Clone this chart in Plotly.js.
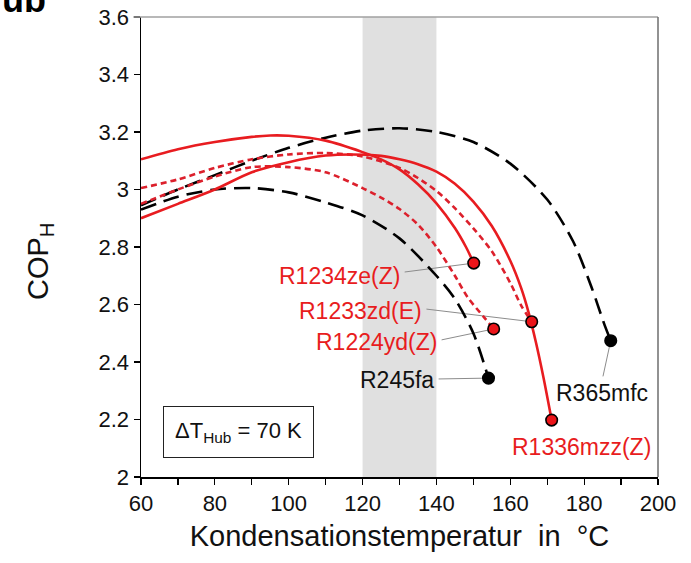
<!DOCTYPE html>
<html>
<head>
<meta charset="utf-8">
<script src="https://cdn.plot.ly/plotly-3.0.1.min.js"></script>
<style>html,body{margin:0;padding:0;background:#fff;}#chart{width:691px;height:563px;}</style>
</head>
<body>
<div id="chart"></div>
<script>
// Data
const r245fa_x = [60, 70, 80, 90, 100, 110, 120, 130, 140, 145, 150, 154.1];
const r245fa_y = [2.93, 2.975, 3.0, 3.005, 2.99, 2.955, 2.91, 2.83, 2.70, 2.62, 2.50, 2.344];

const r365mfc_x = [60, 70, 80, 90, 100, 110, 120, 130, 140, 150, 160, 170, 177, 182, 185.5, 187.2];
const r365mfc_y = [2.945, 3.0, 3.05, 3.10, 3.145, 3.18, 3.205, 3.213, 3.20, 3.165, 3.09, 2.965, 2.82, 2.66, 2.53, 2.474];

const r1234ze_x = [60, 70, 80, 90, 95, 100, 110, 120, 125, 130, 135, 140, 145, 148, 150.1];
const r1234ze_y = [3.105, 3.14, 3.165, 3.183, 3.188, 3.187, 3.17, 3.13, 3.105, 3.07, 3.018, 2.952, 2.866, 2.80, 2.744];

const r1233zd_x = [60, 70, 80, 90, 100, 110, 120, 130, 135, 140, 145, 150, 155, 160, 163, 165.8];
const r1233zd_y = [3.005, 3.035, 3.075, 3.105, 3.122, 3.127, 3.115, 3.075, 3.04, 2.995, 2.935, 2.865, 2.785, 2.675, 2.595, 2.54];

const r1224yd_x = [60, 70, 80, 90, 100, 110, 120, 125, 130, 135, 140, 145, 148.4, 152.8, 155.5];
const r1224yd_y = [2.95, 3.0, 3.045, 3.078, 3.078, 3.06, 3.005, 2.972, 2.932, 2.878, 2.80, 2.70, 2.626, 2.557, 2.515];

const r1336mzz_x = [60, 70, 80, 90, 100, 110, 117, 125, 130, 135, 140, 145, 150, 155, 160, 163, 165, 167, 169, 171.2];
const r1336mzz_y = [2.90, 2.95, 3.00, 3.06, 3.095, 3.118, 3.122, 3.117, 3.105, 3.088, 3.062, 3.02, 2.958, 2.873, 2.752, 2.655, 2.57, 2.465, 2.345, 2.198];

const endNames = ["R245fa", "R365mfc", "R1234ze(Z)", "R1233zd(E)", "R1224yd(Z)", "R1336mzz(Z)"];
const bandRange = [120, 140];
const xTicks = [60, 80, 100, 120, 140, 160, 180, 200];
const yTicks = [2, 2.2, 2.4, 2.6, 2.8, 3, 3.2, 3.4, 3.6];
const yTickText = ["2", "2.2", "2.4", "2.6", "2.8", "3", "3.2", "3.4", "3.6"];

const RED = "rgb(232,28,32)";
const REDD = "rgb(220,32,44)";
const BLK = "rgb(0,0,0)";
const FONT = "Liberation Sans, Arial, sans-serif";

function curve(x, y, color, dash) {
  return {x: x, y: y, type: "scatter", mode: "lines", showlegend: false, hoverinfo: "skip",
          line: {color: color, width: 2.6, dash: dash, shape: "spline", smoothing: 0.8}};
}
function endPt(x, y, fill) {
  return {x: [x[x.length - 1]], y: [y[y.length - 1]], type: "scatter", mode: "markers", showlegend: false,
          hoverinfo: "skip", marker: {size: 11.5, color: fill, line: {color: "#000", width: 1.6}}};
}

const traces = [
  curve(r245fa_x, r245fa_y, BLK, "16px,8px"),
  curve(r365mfc_x, r365mfc_y, BLK, "16px,8px"),
  curve(r1234ze_x, r1234ze_y, RED, "solid"),
  curve(r1233zd_x, r1233zd_y, REDD, "6px,4px"),
  curve(r1224yd_x, r1224yd_y, REDD, "6px,4px"),
  curve(r1336mzz_x, r1336mzz_y, RED, "solid"),
  endPt(r245fa_x, r245fa_y, "#000"),
  endPt(r365mfc_x, r365mfc_y, "#000"),
  endPt(r1234ze_x, r1234ze_y, "rgb(235,20,25)"),
  endPt(r1233zd_x, r1233zd_y, "rgb(235,20,25)"),
  endPt(r1224yd_x, r1224yd_y, "rgb(235,20,25)"),
  endPt(r1336mzz_x, r1336mzz_y, "rgb(235,20,25)")
];

function last(a) { return a[a.length - 1]; }
function leader(x0, y0, x1, y1) {
  return {type: "line", xref: "x", yref: "y", x0: x0, y0: y0, x1: x1, y1: y1,
          line: {color: "rgb(140,140,140)", width: 1}, layer: "below"};
}

const shapes = [
  {type: "rect", xref: "x", yref: "paper", x0: bandRange[0], x1: bandRange[1], y0: 0, y1: 1,
   fillcolor: "rgb(224,224,224)", line: {width: 0}, layer: "below"},
  leader(131.4, 2.713, last(r1234ze_x), last(r1234ze_y)),
  leader(137.3, 2.584, last(r1233zd_x), last(r1233zd_y)),
  leader(141.4, 2.477, last(r1224yd_x), last(r1224yd_y)),
  leader(140.6, 2.341, last(r245fa_x), last(r245fa_y)),
  leader(185.1, 2.350, last(r365mfc_x), last(r365mfc_y)),
  // frame top & right (gray)
  {type: "line", xref: "paper", yref: "paper", x0: -0.015, x1: 1, y0: 1, y1: 1, line: {color: "rgb(160,160,160)", width: 1.5}},
  {type: "line", xref: "paper", yref: "paper", x0: 1, x1: 1, y0: 0, y1: 1, line: {color: "rgb(110,110,110)", width: 1.5}}
];

function lab(text, x, y, color, xanchor) {
  return {text: text, x: x, y: y, xref: "x", yref: "y", showarrow: false, xanchor: xanchor, yanchor: "middle",
          font: {family: FONT, size: 23, color: color}};
}

const annotations = [
  lab(endNames[2], 130.8, 2.699, RED, "right"),
  lab(endNames[3], 136.5, 2.577, RED, "right"),
  lab(endNames[4], 140.6, 2.470, RED, "right"),
  lab(endNames[0], 139.8, 2.337, "#111", "right"),
  lab(endNames[1], 171.8, 2.292, "#111", "left"),
  lab(endNames[5], 179.4, 2.104, RED, "center"),
  {text: "ΔT<sub>Hub</sub> = 70 K", x: 86.3, y: 2.158, xref: "x", yref: "y", showarrow: false,
   xanchor: "center", yanchor: "middle", font: {family: FONT, size: 22, color: "#111"},
   bordercolor: "#222", borderwidth: 1, borderpad: 11, bgcolor: "#fff"},
  {text: "COP<sub>H</sub>", x: -0.195, y: 0.47, xref: "paper", yref: "paper", showarrow: false,
   textangle: -90, xanchor: "center", yanchor: "middle", font: {family: FONT, size: 29, color: "#111"}},
  {text: "<b>ub</b>", x: -0.273, y: 0.990, xref: "paper", yref: "paper", showarrow: false,
   font: {family: FONT, size: 36, color: "#000"}, xanchor: "left", yanchor: "bottom"}
];

const layout = {
  width: 691, height: 563,
  margin: {l: 141, r: 33, t: 17, b: 86, pad: 0},
  paper_bgcolor: "#fff", plot_bgcolor: "#fff",
  showlegend: false,
  font: {family: FONT, color: "#111"},
  xaxis: {range: [60, 200], tickvals: xTicks, ticks: "outside", ticklen: 6, tickwidth: 1.2, tickcolor: "#000",
          showline: true, linecolor: "#000", linewidth: 1.5, showgrid: false, zeroline: false,
          tickfont: {family: FONT, size: 22, color: "#111"},
          minor: {dtick: 10, ticks: "outside", ticklen: 6, tickcolor: "#000", tickwidth: 1.2, showgrid: false},
          title: {text: "Kondensationstemperatur\u00a0 in\u00a0 °C", font: {family: FONT, size: 29, color: "#111"}, standoff: 11}},
  yaxis: {range: [2, 3.6], tickvals: yTicks, ticktext: yTickText,
          ticks: "outside", ticklen: 6, tickwidth: 1.2, tickcolor: "#000",
          showline: true, linecolor: "#000", linewidth: 1.5, showgrid: false, zeroline: false,
          tickfont: {family: FONT, size: 22, color: "#111"}},
  shapes: shapes,
  annotations: annotations
};

Plotly.newPlot("chart", traces, layout, {displayModeBar: false, staticPlot: true});
</script>
</body>
</html>
